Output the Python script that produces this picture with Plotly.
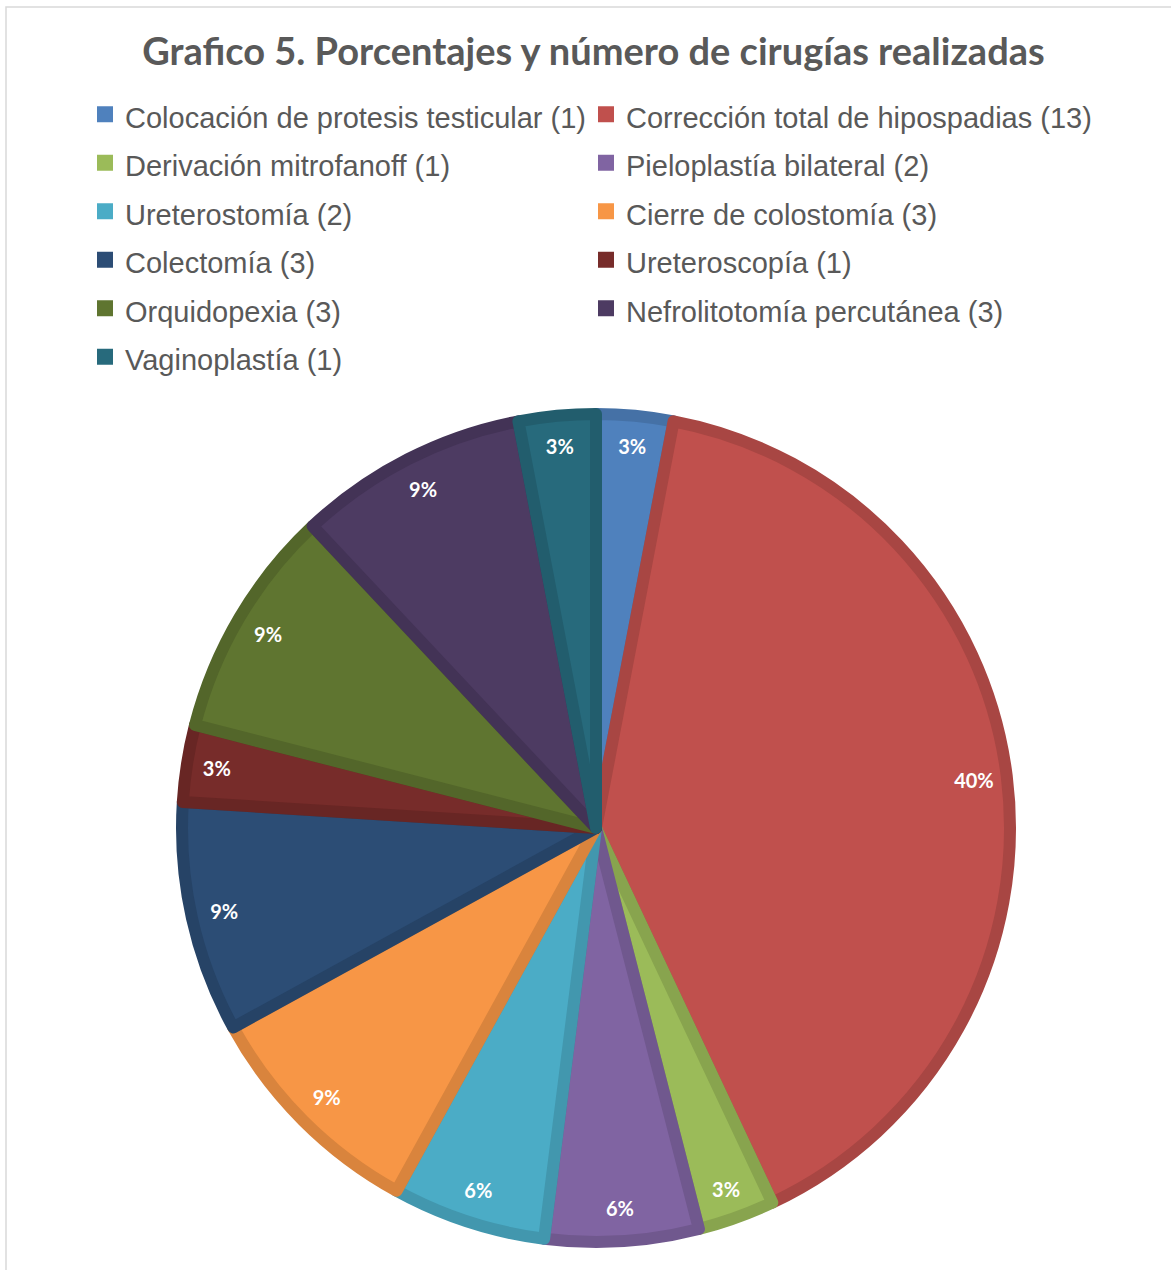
import plotly.graph_objects as go

# Surgical procedures, number performed and share of the total (%)
procedures = [
    "Colocación de protesis testicular",
    "Corrección total de hipospadias",
    "Derivación mitrofanoff",
    "Pieloplastía bilateral",
    "Ureterostomía",
    "Cierre de colostomía",
    "Colectomía",
    "Ureteroscopía",
    "Orquidopexia",
    "Nefrolitotomía percutánea",
    "Vaginoplastía",
]
counts = [1, 13, 1, 2, 2, 3, 3, 1, 3, 3, 1]
percentages = [3, 40, 3, 6, 6, 9, 9, 3, 9, 9, 3]

slice_colors = [
    "#4F81BD", "#C0504D", "#9BBB59", "#8064A2", "#4BACC6", "#F79646",
    "#2C4D75", "#772C2A", "#5F7530", "#4D3B62", "#276A7C",
]

legend_labels = [f"{p} ({c})" for p, c in zip(procedures, counts)]


def darken(hex_color, factor=0.88):
    h = hex_color.lstrip("#")
    r, g, b = (int(h[i:i + 2], 16) for i in (0, 2, 4))
    return "#{:02x}{:02x}{:02x}".format(int(r * factor), int(g * factor), int(b * factor))


edge_colors = [darken(c) for c in slice_colors]

W, H = 1171, 1270
cx, cy = 596, 828          # pie centre in pixels (from top-left)
r_outer = 420              # visible radius including the outline
line_w = 12
r_fill = r_outer - line_w / 2


def square_domain(r):
    return dict(
        x=[(cx - r) / W, (cx + r) / W],
        y=[(H - cy - r) / H, (H - cy + r) / H],
    )


fig = go.Figure()

# Main pie with darker outlines
fig.add_trace(go.Pie(
    labels=legend_labels,
    values=percentages,
    sort=False,
    direction="clockwise",
    rotation=0,
    marker=dict(colors=slice_colors, line=dict(color=edge_colors, width=line_w)),
    textinfo="none",
    hoverinfo="label+percent",
    domain=square_domain(r_fill),
    showlegend=False,
))

# Transparent ring that carries the percentage labels near the rim
fig.add_trace(go.Pie(
    labels=legend_labels,
    values=percentages,
    sort=False,
    direction="clockwise",
    rotation=0,
    hole=0.814,
    marker=dict(colors=["rgba(0,0,0,0)"] * len(percentages), line=dict(width=0)),
    texttemplate="%{value}%",
    textposition="inside",
    insidetextorientation="horizontal",
    insidetextfont=dict(family="Lato", size=20, color="white", weight="bold"),
    hoverinfo="skip",
    domain=square_domain(r_outer),
    showlegend=False,
))

# Legend entries with square swatches, laid out in two columns (row-wise order)
for i, (name, col) in enumerate(zip(legend_labels, slice_colors)):
    fig.add_trace(go.Scatter(
        x=[None], y=[None], mode="markers",
        name=f'<span style="font-size:29px">{name}</span>',
        marker=dict(symbol="square", size=16, color=col),
        legend="legend" if i % 2 == 0 else "legend2",
    ))

legend_style = dict(
    orientation="v",
    yanchor="top", xanchor="left",
    y=1 - 85 / H,
    itemsizing="trace",
    font=dict(family="Liberation Sans", size=35, color="#595959"),
    bgcolor="rgba(0,0,0,0)",
    tracegroupgap=0,
)

fig.update_layout(
    width=W, height=H,
    margin=dict(l=0, r=0, t=0, b=0),
    paper_bgcolor="white",
    plot_bgcolor="white",
    xaxis=dict(visible=False),
    yaxis=dict(visible=False),
    uniformtext=dict(minsize=20, mode="show"),
    title=dict(
        text="Grafico 5. Porcentajes y número de cirugías realizadas",
        x=593.5 / W, xanchor="center", y=1 - 52 / H, yanchor="middle",
        font=dict(family="Lato", size=38, color="#595959", weight="bold"),
    ),
    legend=dict(legend_style, x=85 / W),
    legend2=dict(legend_style, x=586 / W),
    shapes=[dict(
        type="rect", xref="paper", yref="paper",
        x0=6 / W, x1=1.02, y0=-0.02, y1=1 - 7 / H,
        line=dict(color="#d9d9d9", width=1.5),
        fillcolor="rgba(0,0,0,0)", layer="below",
    )],
)

fig.write_html("out.html")
